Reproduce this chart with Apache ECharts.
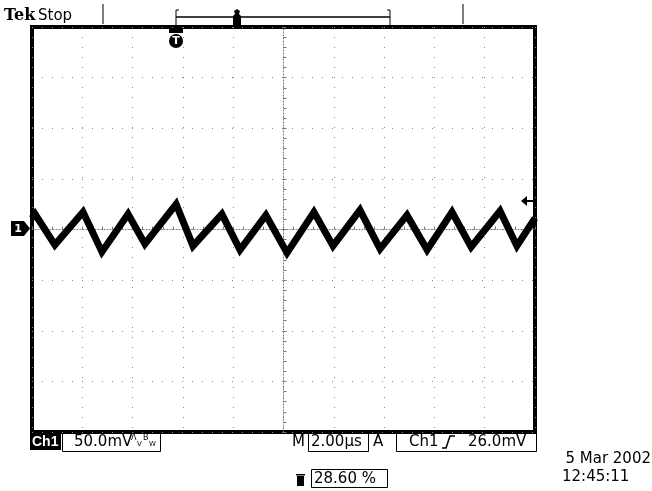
<!DOCTYPE html>
<html>
<head>
<meta charset="utf-8">
<script src="https://cdn.jsdelivr.net/npm/echarts@6/dist/echarts.min.js"></script>
<style>
html,body{margin:0;padding:0;background:#fff;}
#chart{width:652px;height:491px;}
</style>
</head>
<body>
<div id="chart"></div>
<script>
// Time relative to screen centre (µs), 2.00 µs/div, 10 divisions
const timeUs = [-10, -9.88, -9.09, -7.97, -7.22, -6.18, -5.51, -4.27, -3.60, -2.45, -1.73, -0.70, 0.14,
  1.21, 1.97, 3.04, 3.84, 4.91, 5.71, 6.70, 7.46, 8.61, 9.28, 10];
// Channel 1 voltage (mV), 50.0 mV/div, 8 divisions
const voltageMv = [11, 15.2, -15.2, 17.2, -22.1, 15.2, -14.2, 25.0, -16.2, 15.2, -20.1, 14.2, -23.1,
  17.2, -16.2, 19.2, -19.2, 14.2, -20.1, 17.2, -17.2, 18.2, -16.2, 11.3];

const xRange = [-10, 10];      // µs
const xStep = 2;               // µs / div
const yRange = [-200, 200];    // mV
const yStep = 50;              // mV / div

const headerLeft = 'Tek';
const headerState = 'Stop';
const chLabel = 'Ch1';
const voltsDiv = '50.0mV';
const mainLabel = 'M';
const timeDiv = '2.00µs';
const trigLabel = 'A';
const trigSource = 'Ch1';
const trigLevel = '26.0mV';
const dateText = '5 Mar 2002';
const timeText = '12:45:11';
const posText = '28.60 %';
const groundLabel = '1';
const trigMarkLabel = 'T';

const chart = echarts.init(document.getElementById('chart'), null, {renderer: 'canvas'});

const FONT = '15px "DejaVu Sans", sans-serif';
function txt(x, y, text, opts) {
  opts = opts || {};
  return {
    type: 'text', z: 100,
    style: {
      x: x, y: y, text: text,
      font: opts.font || FONT,
      fill: opts.fill || '#000',
      align: opts.align || 'left', textAlign: opts.align || 'left',
      verticalAlign: 'middle', textVerticalAlign: 'middle'
    }
  };
}
function box(x, y, w, h) {
  return {type: 'rect', z: 99, shape: {x: x, y: y, width: w, height: h},
    style: {fill: 'none', stroke: '#000', lineWidth: 1}};
}
function vline(x, y1, y2, color, w) {
  return {type: 'line', z: 99, shape: {x1: x, y1: y1, x2: x, y2: y2},
    style: {stroke: color || '#000', lineWidth: w || 1}};
}

const option = {
  animation: false,
  backgroundColor: '#fff',
  grid: {
    left: 32, top: 27, width: 503, height: 405,
    show: true, borderColor: '#000', borderWidth: 4, backgroundColor: '#fff'
  },
  xAxis: {
    type: 'value', min: xRange[0], max: xRange[1], interval: xStep,
    axisLine: {show: true, onZero: true, lineStyle: {color: '#777', width: 1, type: [1, 2]}},
    axisTick: {show: true, inside: true, length: 3, lineStyle: {color: '#777'}},
    minorTick: {show: true, splitNumber: 5, length: 3, lineStyle: {color: '#777'}},
    axisLabel: {show: false},
    splitLine: {show: true, lineStyle: {color: '#888', width: 1, type: [1, 9]}}
  },
  yAxis: {
    type: 'value', min: yRange[0], max: yRange[1], interval: yStep,
    axisLine: {show: true, onZero: true, lineStyle: {color: '#777', width: 1, type: [1, 2]}},
    axisTick: {show: true, inside: true, length: 3, lineStyle: {color: '#777'}},
    minorTick: {show: true, splitNumber: 5, length: 3, lineStyle: {color: '#777'}},
    axisLabel: {show: false},
    splitLine: {show: true, lineStyle: {color: '#888', width: 1, type: [1, 9]}}
  },
  series: [{
    type: 'line',
    data: timeUs.map((t, i) => [t, voltageMv[i]]),
    symbol: 'none',
    z: 10,
    lineStyle: {color: '#000', width: 7, join: 'miter'}
  }],
  graphic: [
    // header
    txt(4, 16, headerLeft, {font: 'bold 16px "DejaVu Serif", "Liberation Serif", serif'}),
    txt(38, 16, headerState, {font: '15px "DejaVu Sans", sans-serif'}),
    vline(103, 4, 24, '#555', 1.5),
    vline(463, 4, 24, '#555', 1.5),
    vline(176, 10, 25, '#000', 1),
    vline(390, 10, 25, '#000', 1),
    {type: 'line', z: 99, shape: {x1: 176, y1: 17, x2: 390, y2: 17}, style: {stroke: '#000', lineWidth: 1.5}},
    {type: 'line', z: 99, shape: {x1: 176, y1: 10, x2: 179, y2: 10}, style: {stroke: '#000', lineWidth: 1}},
    {type: 'line', z: 99, shape: {x1: 387, y1: 10, x2: 390, y2: 10}, style: {stroke: '#000', lineWidth: 1}},
    {type: 'polygon', z: 100, shape: {points: [[233, 25], [233, 16], [235, 14], [234, 11], [237, 9], [240, 11], [239, 14], [241, 16], [241, 25]]},
      style: {fill: '#000'}},
    // trigger position marker
    {type: 'rect', z: 100, shape: {x: 169, y: 29, width: 14, height: 4}, style: {fill: '#000'}},
    {type: 'circle', z: 100, shape: {cx: 176, cy: 41, r: 7}, style: {fill: '#000'}},
    txt(176, 41, trigMarkLabel, {font: 'bold 11px "DejaVu Sans", sans-serif', fill: '#fff', align: 'center'}),
    // ground marker
    {type: 'polygon', z: 100, shape: {points: [[11, 221], [24, 221], [30, 228.5], [24, 236], [11, 236]]}, style: {fill: '#000'}},
    txt(18, 229, groundLabel, {font: 'bold 11px "DejaVu Sans", sans-serif', fill: '#fff', align: 'center'}),
    // trigger level arrow
    {type: 'polygon', z: 100, shape: {points: [[521, 201], [527, 196], [527, 206]]}, style: {fill: '#000'}},
    {type: 'line', z: 100, shape: {x1: 526, y1: 201, x2: 533, y2: 201}, style: {stroke: '#000', lineWidth: 2}},
    // bottom status
    {type: 'rect', z: 99, shape: {x: 30, y: 434, width: 31, height: 16}, style: {fill: '#000'}},
    txt(32, 442, chLabel, {font: 'bold 14px "Liberation Sans", "DejaVu Sans", sans-serif', fill: '#fff'}),
    box(62.5, 433.5, 98, 18),
    txt(74, 442, voltsDiv),
    txt(131, 438, 'Λ', {font: '8px "DejaVu Sans", sans-serif'}),
    txt(137, 444, 'V', {font: '7px "DejaVu Sans", sans-serif'}),
    txt(143, 438, 'B', {font: '8px "DejaVu Sans", sans-serif'}),
    txt(149, 444, 'W', {font: '7px "DejaVu Sans", sans-serif'}),
    txt(292, 442, mainLabel),
    box(308.5, 433.5, 60, 18),
    txt(311, 442, timeDiv),
    txt(373, 442, trigLabel),
    box(396.5, 433.5, 140, 18),
    txt(409, 442, trigSource),
    {type: 'polyline', z: 100, shape: {points: [[442, 448], [446, 448], [450, 436], [455, 436]]}, style: {stroke: '#000', lineWidth: 1.5, fill: 'none'}},
    txt(468, 442, trigLevel),
    txt(651, 459, dateText, {align: 'right'}),
    txt(562, 477, timeText),
    {type: 'rect', z: 100, shape: {x: 297, y: 476, width: 7, height: 10}, style: {fill: '#000'}},
    {type: 'rect', z: 100, shape: {x: 296, y: 474, width: 9, height: 1.5}, style: {fill: '#000'}},
    box(311.5, 469.5, 76, 18),
    txt(314, 479, posText)
  ]
};
chart.setOption(option);
</script>
</body>
</html>
